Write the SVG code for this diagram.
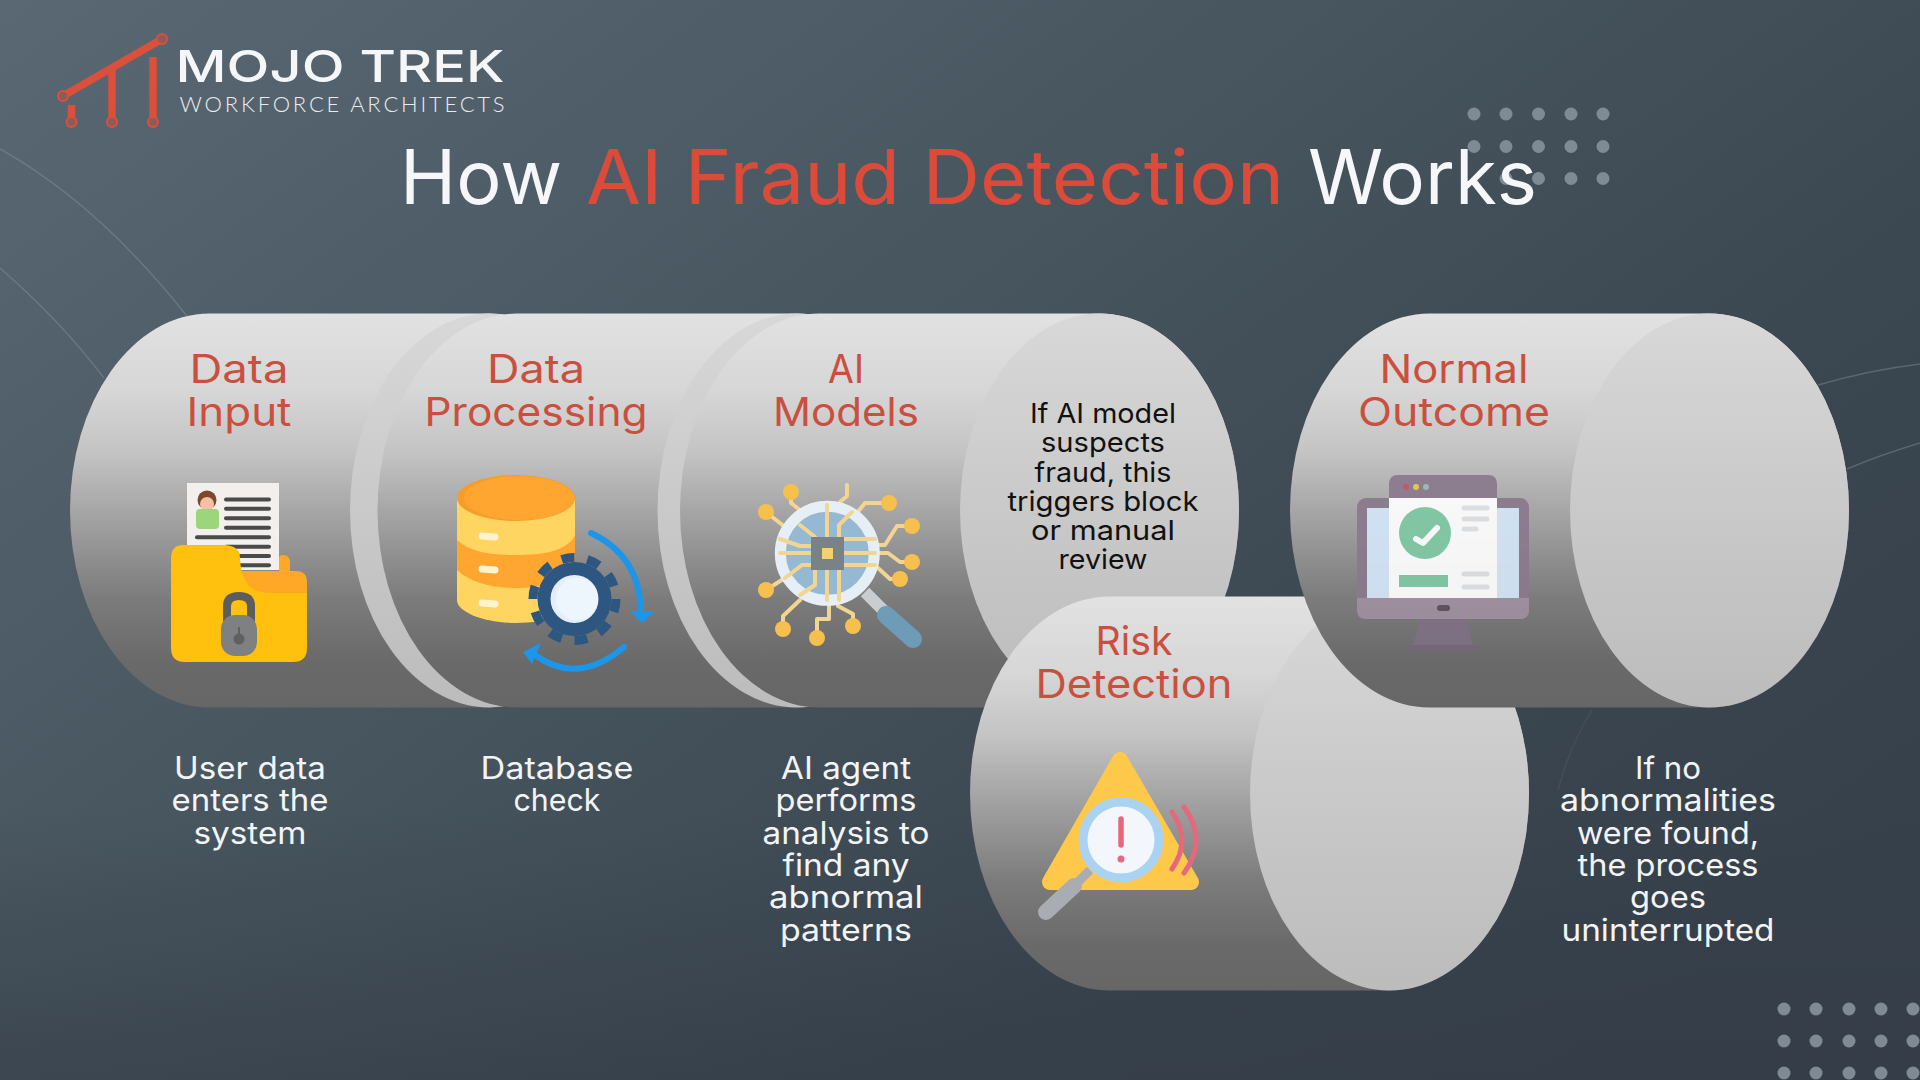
<svg xmlns="http://www.w3.org/2000/svg" xmlns:xlink="http://www.w3.org/1999/xlink" width="1920" height="1080" viewBox="0 0 1920 1080">
<style>
text{font-family:"Inter","Liberation Sans",sans-serif;text-anchor:middle}
.title{font-size:75px;fill:#f5f7fb;text-anchor:start;font-weight:400}
.red{fill:#dc4a3a}
.head{font-size:39px;fill:#c9503f}
.cap{font-size:31px;fill:#f2f4f6}
.blk{font-size:27.5px;fill:#111}
.arc{fill:none;stroke:#8b98a2;stroke-width:1.5;opacity:.4}
.arc2{fill:none;stroke:#8b98a2;stroke-width:1.2;opacity:.15}
.dot{fill:#7f8b94}
.tr{fill:none;stroke:#f3d592;stroke-width:4;stroke-linejoin:round;stroke-linecap:round}
.nd{fill:#f6c04f}
.ln{stroke:#4a4a4a;stroke-width:4;stroke-linecap:round}
.bar{stroke:#dfe3e5;stroke-width:5;stroke-linecap:round}
.bl{fill:none;stroke:#1c96e8;stroke-width:6;stroke-linecap:round}
.lg{stroke:#dc4f3b;stroke-width:7.5}
.lc{fill:#8f5b57;stroke:#dc4f3b;stroke-width:2}
</style>
<defs>
<linearGradient id="bg" x1="0" y1="0" x2="1" y2=".75">
<stop offset="0" stop-color="#5a6874"/><stop offset=".45" stop-color="#47555f"/><stop offset=".8" stop-color="#39454f"/><stop offset="1" stop-color="#37414b"/>
</linearGradient>
<linearGradient id="bg2" x1="0" y1="0" x2="0" y2="1">
<stop offset=".75" stop-color="#333b45" stop-opacity="0"/><stop offset="1" stop-color="#333b45" stop-opacity=".55"/>
</linearGradient>
<linearGradient id="body" x1="0" y1="0" x2="0" y2="1">
<stop offset="0" stop-color="#e2e2e2"/><stop offset=".2" stop-color="#d6d6d6"/><stop offset=".35" stop-color="#c4c4c4"/><stop offset=".5" stop-color="#a6a6a6"/><stop offset=".72" stop-color="#7c7c7c"/><stop offset=".88" stop-color="#6a6a6a"/><stop offset="1" stop-color="#666"/>
</linearGradient>
<linearGradient id="capg" x1="0" y1="0" x2="0" y2="1">
<stop offset="0" stop-color="#d8d8d8"/><stop offset=".5" stop-color="#c9c9c9"/><stop offset="1" stop-color="#bcbcbc"/>
</linearGradient>
<g id="cyl">
<path fill="url(#body)" d="M139.5 0H419.5A139.5 197 0 0 1 419.5 394H139.5A139.5 197 0 0 1 139.5 0Z"/>
<ellipse fill="url(#capg)" cx="419.5" cy="197" rx="139.5" ry="197"/>
</g>
</defs>
<g id="background">
<rect width="1920" height="1080" fill="url(#bg)"/>
<rect width="1920" height="1080" fill="url(#bg2)"/>
<path class="arc" d="M0 149Q100 205 190 320"/>
<path class="arc" d="M0 268Q60 320 104 378"/>
<path class="arc" d="M1818 385Q1870 370 1920 364"/>
<path class="arc" d="M1847 469Q1880 455 1920 443"/>
<path class="arc2" d="M1592 710Q1570 745 1558 790"/>
<g id="dots-top">
<circle class="dot" cx="1474" cy="114" r="6.5"/><circle class="dot" cx="1506" cy="114" r="6.5"/><circle class="dot" cx="1538.5" cy="114" r="6.5"/><circle class="dot" cx="1571" cy="114" r="6.5"/><circle class="dot" cx="1603" cy="114" r="6.5"/>
<circle class="dot" cx="1474" cy="146.5" r="6.5"/><circle class="dot" cx="1506" cy="146.5" r="6.5"/><circle class="dot" cx="1538.5" cy="146.5" r="6.5"/><circle class="dot" cx="1571" cy="146.5" r="6.5"/><circle class="dot" cx="1603" cy="146.5" r="6.5"/>
<circle class="dot" cx="1506" cy="178.5" r="6.5"/><circle class="dot" cx="1538.5" cy="178.5" r="6.5"/><circle class="dot" cx="1571" cy="178.5" r="6.5"/><circle class="dot" cx="1603" cy="178.5" r="6.5"/>
</g>
<g id="dots-bottom">
<circle class="dot" cx="1784" cy="1009" r="6.5"/><circle class="dot" cx="1816" cy="1009" r="6.5"/><circle class="dot" cx="1849" cy="1009" r="6.5"/><circle class="dot" cx="1881" cy="1009" r="6.5"/><circle class="dot" cx="1913" cy="1009" r="6.5"/>
<circle class="dot" cx="1784" cy="1041" r="6.5"/><circle class="dot" cx="1816" cy="1041" r="6.5"/><circle class="dot" cx="1849" cy="1041" r="6.5"/><circle class="dot" cx="1881" cy="1041" r="6.5"/><circle class="dot" cx="1913" cy="1041" r="6.5"/>
<circle class="dot" cx="1784" cy="1073" r="6.5"/><circle class="dot" cx="1816" cy="1073" r="6.5"/><circle class="dot" cx="1849" cy="1073" r="6.5"/><circle class="dot" cx="1881" cy="1073" r="6.5"/><circle class="dot" cx="1913" cy="1073" r="6.5"/>
</g>
</g>
<g id="logo">
<line class="lg" x1="63" y1="96" x2="162" y2="39"/>
<line class="lg" x1="112" y1="70" x2="112" y2="120"/>
<line class="lg" x1="153" y1="57" x2="153" y2="120"/>
<line class="lg" x1="71.5" y1="105" x2="71.5" y2="120"/>
<circle class="lc" cx="63" cy="96" r="5"/><circle class="lc" cx="162" cy="39" r="5"/>
<circle class="lc" cx="71.5" cy="122" r="5"/><circle class="lc" cx="112" cy="122" r="5"/><circle class="lc" cx="153" cy="122" r="5"/>
<text x="340" y="82" font-size="44" font-weight="500" fill="#f4f6f8" textLength="329" lengthAdjust="spacingAndGlyphs">MOJO TREK</text>
<text x="342" y="112" font-size="22" font-weight="300" fill="#e8ecef" textLength="325" lengthAdjust="spacing" style="font-family:Lato,'Liberation Sans',sans-serif">WORKFORCE ARCHITECTS</text>
</g>
<text id="title" class="title" y="204"><tspan x="400" textLength="162" lengthAdjust="spacingAndGlyphs">How</tspan> <tspan class="red" x="586" textLength="698" lengthAdjust="spacingAndGlyphs">AI Fraud Detection</tspan> <tspan x="1308" textLength="229" lengthAdjust="spacingAndGlyphs">Works</tspan></text>

<g id="node-data-input">
<use href="#cyl" x="70" y="313.5"/>
<text class="head"><tspan x="239" y="383" textLength="99" lengthAdjust="spacingAndGlyphs">Data</tspan><tspan x="239" y="426" textLength="105" lengthAdjust="spacingAndGlyphs">Input</tspan></text>
<g id="icon-folder">
<path fill="#ffa726" d="M279 572V558Q279 555 283 555Q290 555 290 563V572Z"/>
<rect x="187" y="483" width="92" height="87" fill="#f2efec"/>
<circle cx="207" cy="500" r="9.5" fill="#7a4a2a"/><circle cx="207" cy="504" r="7" fill="#f6bfa6"/>
<rect x="196" y="509" width="23" height="20" rx="4" fill="#9cd67a"/>
<g class="ln"><line x1="226" y1="499.5" x2="269" y2="499.5"/><line x1="226" y1="508.7" x2="269" y2="508.7"/><line x1="226" y1="518.3" x2="269" y2="518.3"/><line x1="226" y1="527.7" x2="269" y2="527.7"/><line x1="197" y1="537.3" x2="269" y2="537.3"/><line x1="226" y1="546.7" x2="269" y2="546.7"/><line x1="226" y1="556" x2="269" y2="556"/><line x1="226" y1="565.3" x2="269" y2="565.3"/></g>
<path fill="#ffa726" d="M240 571H296Q307 571 307 582V600H240Z"/>
<path fill="#ffc10d" d="M171 558Q171 545 184 545H225Q240 546 240 558Q241 592 268 593H307V648Q307 662 293 662H185Q171 662 171 648Z"/>
<path fill="none" stroke="#5d5d5f" stroke-width="8" d="M227 622V606Q227 596 239 596Q251 596 251 606V622"/>
<rect x="221" y="615" width="36" height="41" rx="14" fill="#7f8082"/>
<circle cx="239" cy="639" r="5.5" fill="#5f6062"/><line x1="239" y1="627" x2="239" y2="639" stroke="#5f6062" stroke-width="2"/>
</g>
<text class="cap"><tspan x="250" y="779" textLength="152" lengthAdjust="spacingAndGlyphs">User data</tspan><tspan x="250" y="811" textLength="157" lengthAdjust="spacingAndGlyphs">enters the</tspan><tspan x="250" y="844" textLength="113" lengthAdjust="spacingAndGlyphs">system</tspan></text>
</g>

<g id="node-data-processing">
<use href="#cyl" x="377.5" y="313.5"/>
<text class="head"><tspan x="536" y="383" textLength="98" lengthAdjust="spacingAndGlyphs">Data</tspan><tspan x="536" y="426" textLength="223" lengthAdjust="spacingAndGlyphs">Processing</tspan></text>
<g id="icon-database">
<path fill="#ffd562" d="M457 498H575V600C575 612 548 623 516 623C484 623 457 612 457 600Z"/>
<path fill="#ffa630" d="M457 540C470 552 490 555 516 555C542 555 565 552 575 536V566C565 582 542 588 516 588C490 588 470 582 457 570Z"/>
<ellipse cx="516" cy="498" rx="59" ry="23" fill="#f59c2a"/>
<ellipse cx="519" cy="498" rx="55" ry="22" fill="#ffa630"/>
<g stroke="#fff3d0" stroke-width="7" stroke-linecap="round"><line x1="482" y1="536" x2="495" y2="537"/><line x1="482" y1="569" x2="495" y2="570"/><line x1="482" y1="603" x2="495" y2="604"/></g>
<circle cx="574.5" cy="599" r="37" fill="#2d5680"/>
<circle cx="574.5" cy="599" r="41.5" fill="none" stroke="#2d5680" stroke-width="9" pathLength="20" stroke-dasharray="1 1"/>
<circle cx="574.5" cy="599" r="24" fill="#e3f0fb"/><circle cx="577" cy="599" r="21" fill="#eef6fd"/>
<path class="bl" d="M591 533Q640 556 641 612"/>
<path fill="#1c96e8" d="M629 611H655L642 623Z"/>
<path class="bl" d="M624 647Q578 686 535 655"/>
<path fill="#1c96e8" d="M523 652L541 643L532 664Z"/>
</g>
<text class="cap"><tspan x="557" y="779" textLength="153" lengthAdjust="spacingAndGlyphs">Database</tspan><tspan x="557" y="811" textLength="87" lengthAdjust="spacingAndGlyphs">check</tspan></text>
</g>

<g id="node-ai-models">
<use href="#cyl" x="680" y="313.5"/>
<text class="head"><tspan x="846" y="383" textLength="36" lengthAdjust="spacingAndGlyphs">AI</tspan><tspan x="846" y="426" textLength="146" lengthAdjust="spacingAndGlyphs">Models</tspan></text>
<g id="icon-ai">
<path class="tr" d="M791 492L791 503L800 510 M766 512L785 527 M847 485V496L840 502 M889 503H865L856 514 M912 526H897L885 545H876 M912 562L900 562L888 553H876 M900 579H890L878 568 M766 590L785 578 M783 629V616L800 600 M817 638V619H829V605 M853 626V614L838 606"/>
<circle cx="827.3" cy="553.3" r="47" fill="#96b9d3" stroke="#e6eff5" stroke-width="11"/>
<path class="tr" d="M780 553H811M844 553H875M780 539 800 546 811 546M844 539H875M844 565H875M811 565H802L785 578M827 505V537M827 570V600M839 537V525L852 512M815 537 800 525 M815 570V585L800 595M839 570V600"/>
<rect x="811" y="537" width="33" height="33" fill="#7a8288"/><rect x="822" y="548" width="11" height="11" fill="#f5d06f"/>
<circle class="nd" cx="791" cy="492" r="8"/><circle class="nd" cx="766" cy="512" r="8"/><circle class="nd" cx="889" cy="503" r="8"/><circle class="nd" cx="912" cy="526" r="8"/><circle class="nd" cx="912" cy="562" r="8"/><circle class="nd" cx="900" cy="579" r="8"/><circle class="nd" cx="766" cy="590" r="8"/><circle class="nd" cx="783" cy="629" r="8"/><circle class="nd" cx="817" cy="638" r="8"/><circle class="nd" cx="853" cy="626" r="8"/>
<line x1="865" y1="592" x2="884" y2="611" stroke="#c9cdd0" stroke-width="12"/>
<line x1="886" y1="615" x2="913" y2="639" stroke="#6d9bb8" stroke-width="18" stroke-linecap="round"/>
</g>
<text class="cap"><tspan x="846" y="779" textLength="130" lengthAdjust="spacingAndGlyphs">AI agent</tspan><tspan x="846" y="811" textLength="141" lengthAdjust="spacingAndGlyphs">performs</tspan><tspan x="846" y="844" textLength="167" lengthAdjust="spacingAndGlyphs">analysis to</tspan><tspan x="846" y="876" textLength="127" lengthAdjust="spacingAndGlyphs">find any</tspan><tspan x="846" y="908" textLength="154" lengthAdjust="spacingAndGlyphs">abnormal</tspan><tspan x="846" y="941" textLength="132" lengthAdjust="spacingAndGlyphs">patterns</tspan></text>
<text class="blk"><tspan x="1103" y="423" textLength="146" lengthAdjust="spacingAndGlyphs">If AI model</tspan><tspan x="1103" y="452" textLength="124" lengthAdjust="spacingAndGlyphs">suspects</tspan><tspan x="1103" y="482" textLength="137" lengthAdjust="spacingAndGlyphs">fraud, this</tspan><tspan x="1103" y="511" textLength="191" lengthAdjust="spacingAndGlyphs">triggers block</tspan><tspan x="1103" y="540" textLength="144" lengthAdjust="spacingAndGlyphs">or manual</tspan><tspan x="1103" y="569" textLength="89" lengthAdjust="spacingAndGlyphs">review</tspan></text>
</g>

<g id="node-risk-detection">
<use href="#cyl" x="970" y="596.5"/>
<text class="head"><tspan x="1134" y="655" textLength="77" lengthAdjust="spacingAndGlyphs">Risk</tspan><tspan x="1134" y="698" textLength="197" lengthAdjust="spacingAndGlyphs">Detection</tspan></text>
<g id="icon-warning">
<path fill="#fec84b" stroke="#fec84b" stroke-width="16" stroke-linejoin="round" d="M1120 760L1191 882H1050Z"/>
<line x1="1090" y1="870" x2="1072" y2="888" stroke="#a9adb3" stroke-width="9"/>
<line x1="1074" y1="886" x2="1046" y2="912" stroke="#a9adb3" stroke-width="16" stroke-linecap="round"/>
<circle cx="1121" cy="840" r="38" fill="#f3f6fb" stroke="#a9d3f0" stroke-width="9"/>
<line x1="1121" y1="819" x2="1121" y2="845" stroke="#e4697d" stroke-width="5.5" stroke-linecap="round"/>
<circle cx="1121" cy="859" r="3.5" fill="#e4697d"/>
<path d="M1172 812Q1192 840 1172 869M1184 807Q1208 840 1184 873" fill="none" stroke="#e4697d" stroke-width="5" stroke-linecap="round"/>
</g>
</g>

<g id="node-normal-outcome">
<use href="#cyl" x="1290" y="313.5"/>
<text class="head"><tspan x="1454" y="383" textLength="149" lengthAdjust="spacingAndGlyphs">Normal</tspan><tspan x="1454" y="426" textLength="192" lengthAdjust="spacingAndGlyphs">Outcome</tspan></text>
<g id="icon-monitor" opacity=".92">
<path fill="#7f7084" d="M1421 619H1466L1473 645H1413Z"/>
<rect x="1406" y="645" width="74" height="5" rx="2" fill="#766779"/>
<rect x="1357" y="498" width="172" height="121" rx="9" fill="#8a7a8c"/>
<path fill="#a08fa0" d="M1357 598H1529V610Q1529 619 1520 619H1366Q1357 619 1357 610Z"/>
<rect x="1367" y="508" width="152" height="90" fill="#d4e6f8"/>
<path fill="#8a7a8c" d="M1389 498V484Q1389 475 1398 475H1488Q1497 475 1497 484V498Z"/>
<rect x="1389" y="498" width="108" height="100" fill="#fff"/>
<circle cx="1406" cy="487" r="3" fill="#c85060"/><circle cx="1416" cy="487" r="3" fill="#e8c84a"/><circle cx="1426" cy="487" r="3" fill="#a0b4bc"/>
<circle cx="1425" cy="533" r="26" fill="#7fc9a4"/>
<path d="M1416 539L1423 543L1437 528" fill="none" stroke="#fff" stroke-width="6" stroke-linecap="round" stroke-linejoin="round"/>
<g class="bar"><line x1="1464" y1="508" x2="1487" y2="508"/><line x1="1464" y1="519" x2="1487" y2="519"/><line x1="1464" y1="529" x2="1476" y2="529"/><line x1="1464" y1="574" x2="1487" y2="574"/><line x1="1464" y1="587" x2="1487" y2="587"/></g>
<rect x="1399" y="575" width="49" height="12" fill="#7fc9a4"/>
<rect x="1437" y="605" width="13" height="6" rx="3" fill="#5c4e60"/>
</g>
<text class="cap"><tspan x="1668" y="779" textLength="66" lengthAdjust="spacingAndGlyphs">If no</tspan><tspan x="1668" y="811" textLength="216" lengthAdjust="spacingAndGlyphs">abnormalities</tspan><tspan x="1668" y="844" textLength="182" lengthAdjust="spacingAndGlyphs">were found,</tspan><tspan x="1668" y="876" textLength="181" lengthAdjust="spacingAndGlyphs">the process</tspan><tspan x="1668" y="908" textLength="76" lengthAdjust="spacingAndGlyphs">goes</tspan><tspan x="1668" y="941" textLength="213" lengthAdjust="spacingAndGlyphs">uninterrupted</tspan></text>
</g>
</svg>
